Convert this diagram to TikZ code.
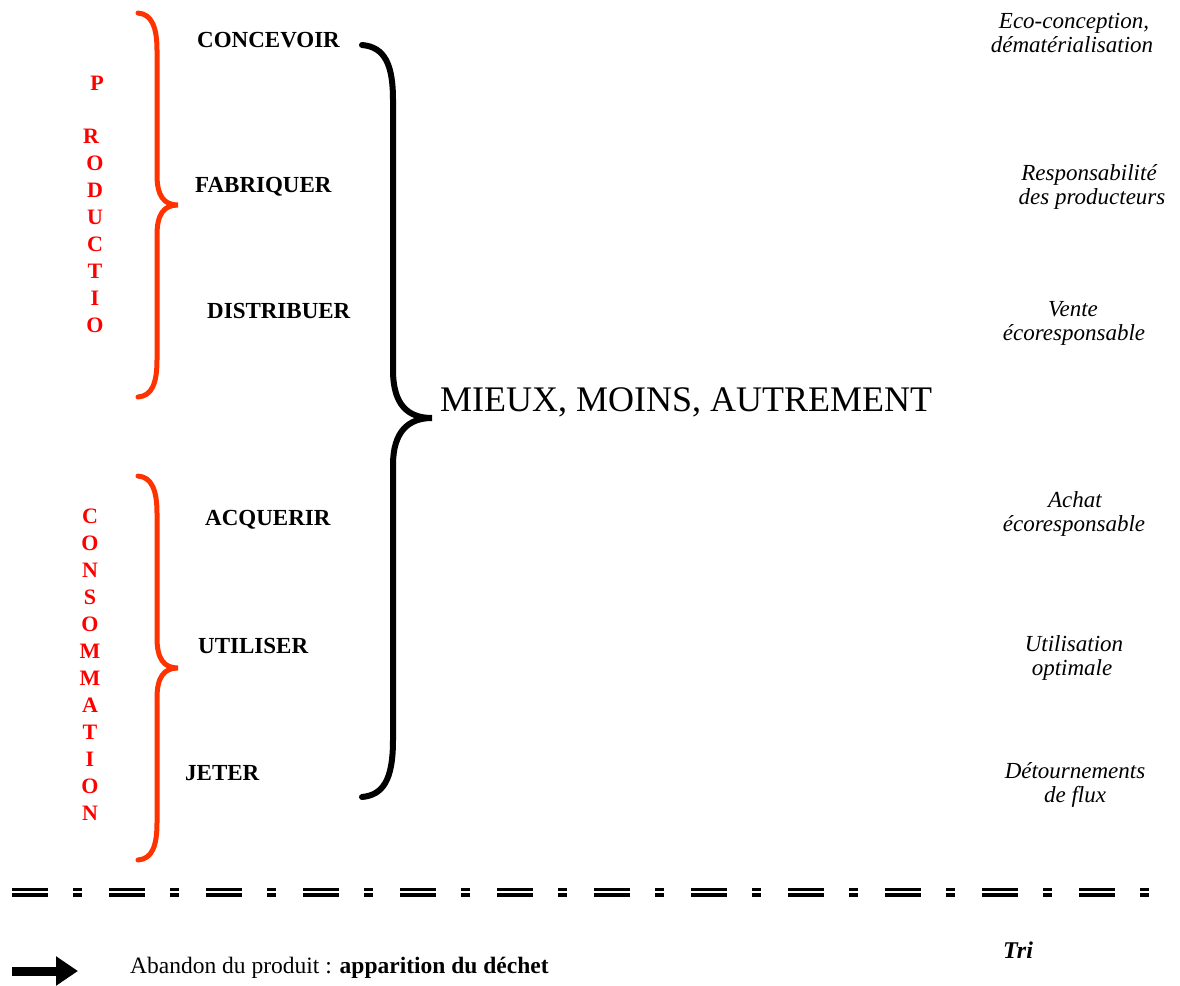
\documentclass[tikz,border=0pt]{standalone}
\usepackage{fontspec}
\setmainfont{Liberation Serif}
\usetikzlibrary{arrows.meta}
\definecolor{braceRed}{RGB}{255,51,0}
\definecolor{letterRed}{RGB}{255,0,0}
\begin{document}
\begin{tikzpicture}[x=1pt,y=-1pt,
  lab/.style={anchor=base west,inner sep=0pt,font=\fontsize{23}{24}\selectfont\bfseries},
  rl/.style={anchor=base,inner sep=0pt,text=letterRed,font=\fontsize{22}{22}\selectfont\bfseries},
  note/.style={anchor=base,inner sep=0pt,font=\fontsize{23}{24}\selectfont\itshape},
  redbrace/.style={draw=braceRed,line width=5pt,line cap=round},
  blackbrace/.style={draw=black,line width=6pt,line cap=round},
  sep/.style={dash pattern=on 36pt off 25pt on 9pt off 27pt}]
\useasboundingbox (0,0) rectangle (1180,985);

% red braces
\draw[redbrace] (138,13) .. controls (152,14) and (157,28) .. (157,50) -- (157,175)
  .. controls (157,196) and (164,205) .. (178,205)
  .. controls (164,205) and (157,214) .. (157,235) -- (157,360)
  .. controls (157,383) and (152,396) .. (138,397);
\draw[redbrace] (138,476) .. controls (152,477) and (157,491) .. (157,513) -- (157,638)
  .. controls (157,659) and (164,668) .. (178,668)
  .. controls (164,668) and (157,677) .. (157,698) -- (157,823)
  .. controls (157,846) and (152,859) .. (138,860);

% black brace
\draw[blackbrace] (362,45) .. controls (385,47) and (393,65) .. (393,100) -- (393,370)
  .. controls (393,405) and (408,418) .. (432,418)
  .. controls (408,418) and (393,432) .. (393,465) -- (393,740)
  .. controls (393,780) and (383,795) .. (362,797);

% red vertical words
\node[rl] (pP) at (97,90) {P};
\foreach \l/\xx/\yy [count=\i] in {R/91/143,O/95/170,D/95/197,U/95/224,C/95/251,T/95/278,I/95/305,O/95/332}
  \node[rl] (p\i) at (\xx,\yy) {\l};
\foreach \l/\yy [count=\i] in {C/523,O/550,N/577,S/604,O/631,M/658,M/685,A/712,T/739,I/766,O/793,N/820}
  \node[rl] (c\i) at (90,\yy) {\l};

% stage labels
\node[lab] (concevoir) at (197,47) {CONCEVOIR};
\node[lab] (fabriquer) at (195,192) {FABRIQUER};
\node[lab] (distribuer) at (207,318) {DISTRIBUER};
\node[lab] (acquerir) at (205,525) {ACQUERIR};
\node[lab] (utiliser) at (198,653) {UTILISER};
\node[lab] (jeter) at (185,780) {JETER};

% central text
\node[anchor=base west,inner sep=0pt,font=\fontsize{36}{36}\selectfont] (mmm) at (440,411) {MIEUX, MOINS, AUTREMENT};

% right notes
\node[note] (n1a) at (1074,28) {Eco-conception,};
\node[note] (n1b) at (1072,52) {dématérialisation};
\node[note] (n2a) at (1089,180) {Responsabilité};
\node[note] (n2b) at (1092,204) {des producteurs};
\node[note] (n3a) at (1073,316) {Vente};
\node[note] (n3b) at (1074,340) {écoresponsable};
\node[note] (n4a) at (1075,507) {Achat};
\node[note] (n4b) at (1074,531) {écoresponsable};
\node[note] (n5a) at (1074,651) {Utilisation};
\node[note] (n5b) at (1072,675) {optimale};
\node[note] (n6a) at (1075,778) {Détournements};
\node[note] (n6b) at (1075,802) {de flux};

% separator
\draw[sep,line width=3pt] (12,889.5) -- (1152,889.5);
\draw[sep,line width=4pt] (12,895) -- (1152,895);

% legend
\coordinate (aS) at (12,971);
\coordinate (aE) at (78,971);
\draw[line width=9pt,-{Triangle[length=22pt,width=28pt]}] (aS) -- (aE);
\node[anchor=base west,inner sep=0pt,font=\fontsize{23.5}{24}\selectfont] (abandon) at (130,973) {Abandon du produit : \textbf{apparition du déchet}};
\node[anchor=base west,inner sep=0pt,font=\fontsize{24}{24}\selectfont\bfseries\itshape] (tri) at (1003,958) {Tri};
\end{tikzpicture}
\end{document}
